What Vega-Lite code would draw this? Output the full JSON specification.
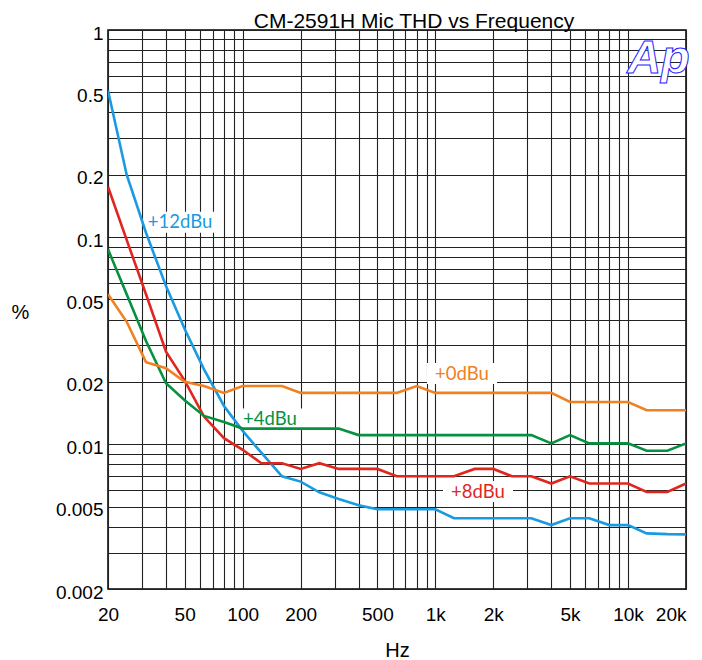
{
  "$schema": "https://vega.github.io/schema/vega-lite/v6.json",
  "autosize": {"type": "none"},
  "padding": {"left": 108, "top": 30, "right": 16, "bottom": 71},
  "width": 578,
  "height": 559,
  "background": "white",
  "title": {
    "text": "CM-2591H Mic THD vs Frequency",
    "font": "Liberation Sans",
    "fontSize": 21,
    "fontWeight": "normal",
    "color": "black",
    "anchor": "middle",
    "baseline": "alphabetic",
    "offset": 3,
    "dy": 28,
    "dx": 17
  },
  "config": {
    "view": {"stroke": "black", "strokeWidth": 1.5},
    "axis": {
      "grid": true,
      "gridColor": "#222222",
      "gridWidth": 1.1,
      "gridOpacity": 1,
      "domain": false,
      "ticks": false,
      "labelFont": "Liberation Sans",
      "labelFontSize": 19,
      "labelColor": "black",
      "labelOverlap": false,
      "labelFlush": false,
      "titleFont": "Liberation Sans",
      "titleFontSize": 20,
      "titleFontWeight": "normal",
      "titleColor": "black"
    }
  },
  "datasets": {
    "thd": [
      {"series": "+12dBu", "freq": 20, "thd": 0.51},
      {"series": "+12dBu", "freq": 25, "thd": 0.2},
      {"series": "+12dBu", "freq": 31.5, "thd": 0.105},
      {"series": "+12dBu", "freq": 40, "thd": 0.058},
      {"series": "+12dBu", "freq": 50, "thd": 0.036},
      {"series": "+12dBu", "freq": 63, "thd": 0.023},
      {"series": "+12dBu", "freq": 80, "thd": 0.0153},
      {"series": "+12dBu", "freq": 100, "thd": 0.0116},
      {"series": "+12dBu", "freq": 125, "thd": 0.0091},
      {"series": "+12dBu", "freq": 160, "thd": 0.007},
      {"series": "+12dBu", "freq": 200, "thd": 0.0066},
      {"series": "+12dBu", "freq": 250, "thd": 0.00586},
      {"series": "+12dBu", "freq": 315, "thd": 0.00544},
      {"series": "+12dBu", "freq": 400, "thd": 0.00507},
      {"series": "+12dBu", "freq": 500, "thd": 0.00485},
      {"series": "+12dBu", "freq": 630, "thd": 0.00485},
      {"series": "+12dBu", "freq": 800, "thd": 0.00485},
      {"series": "+12dBu", "freq": 1000, "thd": 0.00485},
      {"series": "+12dBu", "freq": 1250, "thd": 0.00439},
      {"series": "+12dBu", "freq": 1600, "thd": 0.00439},
      {"series": "+12dBu", "freq": 2000, "thd": 0.00439},
      {"series": "+12dBu", "freq": 2500, "thd": 0.00439},
      {"series": "+12dBu", "freq": 3150, "thd": 0.00439},
      {"series": "+12dBu", "freq": 4000, "thd": 0.00407},
      {"series": "+12dBu", "freq": 5000, "thd": 0.00439},
      {"series": "+12dBu", "freq": 6300, "thd": 0.00439},
      {"series": "+12dBu", "freq": 8000, "thd": 0.00407},
      {"series": "+12dBu", "freq": 10000, "thd": 0.00407},
      {"series": "+12dBu", "freq": 12500, "thd": 0.00371},
      {"series": "+12dBu", "freq": 16000, "thd": 0.00368},
      {"series": "+12dBu", "freq": 20000, "thd": 0.00367},

      {"series": "+8dBu", "freq": 20, "thd": 0.175},
      {"series": "+8dBu", "freq": 25, "thd": 0.097},
      {"series": "+8dBu", "freq": 31.5, "thd": 0.053},
      {"series": "+8dBu", "freq": 40, "thd": 0.028},
      {"series": "+8dBu", "freq": 50, "thd": 0.0203},
      {"series": "+8dBu", "freq": 63, "thd": 0.0136},
      {"series": "+8dBu", "freq": 80, "thd": 0.0107},
      {"series": "+8dBu", "freq": 100, "thd": 0.0094},
      {"series": "+8dBu", "freq": 125, "thd": 0.0081},
      {"series": "+8dBu", "freq": 160, "thd": 0.0081},
      {"series": "+8dBu", "freq": 200, "thd": 0.0076},
      {"series": "+8dBu", "freq": 250, "thd": 0.0081},
      {"series": "+8dBu", "freq": 315, "thd": 0.0076},
      {"series": "+8dBu", "freq": 400, "thd": 0.0076},
      {"series": "+8dBu", "freq": 500, "thd": 0.0076},
      {"series": "+8dBu", "freq": 630, "thd": 0.007},
      {"series": "+8dBu", "freq": 800, "thd": 0.007},
      {"series": "+8dBu", "freq": 1000, "thd": 0.007},
      {"series": "+8dBu", "freq": 1250, "thd": 0.007},
      {"series": "+8dBu", "freq": 1600, "thd": 0.0076},
      {"series": "+8dBu", "freq": 2000, "thd": 0.0076},
      {"series": "+8dBu", "freq": 2500, "thd": 0.007},
      {"series": "+8dBu", "freq": 3150, "thd": 0.007},
      {"series": "+8dBu", "freq": 4000, "thd": 0.00646},
      {"series": "+8dBu", "freq": 5000, "thd": 0.007},
      {"series": "+8dBu", "freq": 6300, "thd": 0.00646},
      {"series": "+8dBu", "freq": 8000, "thd": 0.00646},
      {"series": "+8dBu", "freq": 10000, "thd": 0.00646},
      {"series": "+8dBu", "freq": 12500, "thd": 0.00588},
      {"series": "+8dBu", "freq": 16000, "thd": 0.00588},
      {"series": "+8dBu", "freq": 20000, "thd": 0.00646},

      {"series": "+4dBu", "freq": 20, "thd": 0.0873},
      {"series": "+4dBu", "freq": 25, "thd": 0.053},
      {"series": "+4dBu", "freq": 31.5, "thd": 0.0315},
      {"series": "+4dBu", "freq": 40, "thd": 0.0197},
      {"series": "+4dBu", "freq": 50, "thd": 0.0163},
      {"series": "+4dBu", "freq": 63, "thd": 0.0137},
      {"series": "+4dBu", "freq": 80, "thd": 0.0128},
      {"series": "+4dBu", "freq": 100, "thd": 0.0119},
      {"series": "+4dBu", "freq": 125, "thd": 0.0119},
      {"series": "+4dBu", "freq": 160, "thd": 0.0119},
      {"series": "+4dBu", "freq": 200, "thd": 0.0119},
      {"series": "+4dBu", "freq": 250, "thd": 0.0119},
      {"series": "+4dBu", "freq": 315, "thd": 0.0119},
      {"series": "+4dBu", "freq": 400, "thd": 0.01107},
      {"series": "+4dBu", "freq": 500, "thd": 0.01107},
      {"series": "+4dBu", "freq": 630, "thd": 0.01107},
      {"series": "+4dBu", "freq": 800, "thd": 0.01107},
      {"series": "+4dBu", "freq": 1000, "thd": 0.01107},
      {"series": "+4dBu", "freq": 1250, "thd": 0.01107},
      {"series": "+4dBu", "freq": 1600, "thd": 0.01107},
      {"series": "+4dBu", "freq": 2000, "thd": 0.01107},
      {"series": "+4dBu", "freq": 2500, "thd": 0.01107},
      {"series": "+4dBu", "freq": 3150, "thd": 0.01107},
      {"series": "+4dBu", "freq": 4000, "thd": 0.0101},
      {"series": "+4dBu", "freq": 5000, "thd": 0.01107},
      {"series": "+4dBu", "freq": 6300, "thd": 0.0101},
      {"series": "+4dBu", "freq": 8000, "thd": 0.0101},
      {"series": "+4dBu", "freq": 10000, "thd": 0.0101},
      {"series": "+4dBu", "freq": 12500, "thd": 0.0093},
      {"series": "+4dBu", "freq": 16000, "thd": 0.0093},
      {"series": "+4dBu", "freq": 20000, "thd": 0.0101},

      {"series": "+0dBu", "freq": 20, "thd": 0.053},
      {"series": "+0dBu", "freq": 25, "thd": 0.039},
      {"series": "+0dBu", "freq": 31.5, "thd": 0.0249},
      {"series": "+0dBu", "freq": 40, "thd": 0.0233},
      {"series": "+0dBu", "freq": 50, "thd": 0.02},
      {"series": "+0dBu", "freq": 63, "thd": 0.0191},
      {"series": "+0dBu", "freq": 80, "thd": 0.0177},
      {"series": "+0dBu", "freq": 100, "thd": 0.0191},
      {"series": "+0dBu", "freq": 125, "thd": 0.0191},
      {"series": "+0dBu", "freq": 160, "thd": 0.0191},
      {"series": "+0dBu", "freq": 200, "thd": 0.0177},
      {"series": "+0dBu", "freq": 250, "thd": 0.0177},
      {"series": "+0dBu", "freq": 315, "thd": 0.0177},
      {"series": "+0dBu", "freq": 400, "thd": 0.0177},
      {"series": "+0dBu", "freq": 500, "thd": 0.0177},
      {"series": "+0dBu", "freq": 630, "thd": 0.0177},
      {"series": "+0dBu", "freq": 800, "thd": 0.0191},
      {"series": "+0dBu", "freq": 1000, "thd": 0.0177},
      {"series": "+0dBu", "freq": 1250, "thd": 0.0177},
      {"series": "+0dBu", "freq": 1600, "thd": 0.0177},
      {"series": "+0dBu", "freq": 2000, "thd": 0.0177},
      {"series": "+0dBu", "freq": 2500, "thd": 0.0177},
      {"series": "+0dBu", "freq": 3150, "thd": 0.0177},
      {"series": "+0dBu", "freq": 4000, "thd": 0.0177},
      {"series": "+0dBu", "freq": 5000, "thd": 0.016},
      {"series": "+0dBu", "freq": 6300, "thd": 0.016},
      {"series": "+0dBu", "freq": 8000, "thd": 0.016},
      {"series": "+0dBu", "freq": 10000, "thd": 0.016},
      {"series": "+0dBu", "freq": 12500, "thd": 0.0146},
      {"series": "+0dBu", "freq": 16000, "thd": 0.0146},
      {"series": "+0dBu", "freq": 20000, "thd": 0.0146}
    ],
    "labels": [
      {"series": "+12dBu", "label": "+12dBu", "freq": 47.3, "thd": 0.118},
      {"series": "+0dBu", "label": "+0dBu", "freq": 1375, "thd": 0.02195},
      {"series": "+4dBu", "label": "+4dBu", "freq": 138.6, "thd": 0.01324},
      {"series": "+8dBu", "label": "+8dBu", "freq": 1665, "thd": 0.00591}
    ],
    "logo": [
      {"label": "Ap", "freq": 14390, "thd": 0.62}
    ]
  },
  "encoding": {
    "x": {
      "field": "freq",
      "type": "quantitative",
      "scale": {"type": "log", "domain": [20, 20000], "nice": false},
      "axis": {
        "title": "Hz",
        "values": [20, 30, 40, 50, 60, 70, 80, 90, 100, 200, 300, 400, 500, 600, 700, 800, 900, 1000, 2000, 3000, 4000, 5000, 6000, 7000, 8000, 9000, 10000, 20000],
        "labelExpr": "indexof([20, 50, 100, 200, 500, 1000, 2000, 5000, 10000, 20000], datum.value) >= 0 ? (datum.value >= 1000 ? (datum.value / 1000) + 'k' : datum.value + '') : ''",
        "labelAlign": {"condition": {"test": "datum.value >= 20000", "value": "right"}, "value": "center"},
        "labelPadding": 16,
        "titleX": 289,
        "titleY": 61,
        "titleBaseline": "middle",
        "titleAlign": "center"
      }
    },
    "y": {
      "field": "thd",
      "type": "quantitative",
      "scale": {"type": "log", "domain": [0.002, 1], "nice": false},
      "axis": {
        "title": "%",
        "values": [0.002, 0.003, 0.004, 0.005, 0.006, 0.007, 0.008, 0.009, 0.01, 0.02, 0.03, 0.04, 0.05, 0.06, 0.07, 0.08, 0.09, 0.1, 0.2, 0.3, 0.4, 0.5, 0.6, 0.7, 0.8, 0.9, 1],
        "labelExpr": "indexof([0.002, 0.005, 0.01, 0.02, 0.05, 0.1, 0.2, 0.5, 1], datum.value) >= 0 ? format(datum.value, '~g') : ''",
        "labelPadding": 5,
        "labelOffset": 3,
        "titleAngle": 0,
        "titleX": -88,
        "titleY": 282,
        "titleAlign": "center",
        "titleBaseline": "middle"
      }
    }
  },
  "layer": [
    {
      "data": {"name": "labels"},
      "mark": {
        "type": "point",
        "shape": "M-1,-0.3L1,-0.3L1,0.3L-1,0.3Z",
        "filled": true,
        "fill": "white",
        "opacity": 1,
        "strokeWidth": 0,
        "size": 4900
      }
    },
    {
      "data": {"name": "thd"},
      "mark": {"type": "line", "strokeWidth": 2.6, "clip": true},
      "encoding": {
        "color": {
          "field": "series",
          "type": "nominal",
          "scale": {"domain": ["+12dBu", "+8dBu", "+4dBu", "+0dBu"], "range": ["#1a9ae0", "#e0261e", "#05913f", "#f08020"]},
          "legend": null
        },
        "detail": {"field": "series"}
      }
    },
    {
      "data": {"name": "labels"},
      "mark": {"type": "text", "font": "Lato", "fontSize": 18.5, "align": "center", "baseline": "middle"},
      "encoding": {
        "text": {"field": "label"},
        "color": {
          "field": "series",
          "type": "nominal",
          "scale": {"domain": ["+12dBu", "+8dBu", "+4dBu", "+0dBu"], "range": ["#1a9ae0", "#e0261e", "#05913f", "#f08020"]},
          "legend": null
        }
      }
    },
    {
      "data": {"name": "logo"},
      "mark": {
        "type": "text",
        "font": "Liberation Sans",
        "fontSize": 47,
        "fontStyle": "italic",
        "fontWeight": "bold",
        "align": "center",
        "baseline": "alphabetic",
        "fill": "white",
        "stroke": "#1a1aff",
        "strokeWidth": 1
      },
      "encoding": {"text": {"field": "label"}}
    }
  ]
}
